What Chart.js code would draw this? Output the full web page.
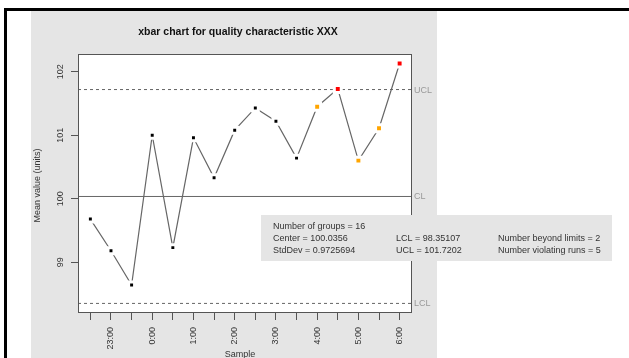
<!DOCTYPE html>
<html>
<head>
<meta charset="utf-8">
<script src="https://cdn.jsdelivr.net/npm/chart.js@4.4.1/dist/chart.umd.min.js"></script>
<style>
html, body { margin: 0; padding: 0; background: #fff; }
canvas { display: block; }
</style>
</head>
<body>
<canvas id="xbar-chart" width="629" height="358"></canvas>
<script>
// datos del grafico
const sampleIdx = [1, 2, 3, 4, 5, 6, 7, 8, 9, 10, 11, 12, 13, 14, 15, 16];
const sampleLabels = ['', '23:00', '', '0:00', '', '1:00', '', '2:00', '', '3:00', '', '4:00', '', '5:00', '', '6:00'];
const groupMeans = [99.68, 99.18, 98.64, 101.00, 99.23, 100.96, 100.33, 101.08, 101.43, 101.22, 100.64, 101.45, 101.73, 100.60, 101.11, 102.13];
const centerValue = 100.0356;
const lclValue = 98.35107;
const uclValue = 101.7202;
const beyondLimits = [13, 16];       // rojo
const violatingRuns = [12, 14, 15];  // naranja
const yTicks = [99, 100, 101, 102];
const statsText = [
    ['Number of groups = 16', '', ''],
    ['Center = 100.0356', 'LCL = 98.35107', 'Number beyond limits = 2'],
    ['StdDev = 0.9725694', 'UCL = 101.7202', 'Number violating runs = 5']
];

const X_MIN = 0.4, X_MAX = 16.6;
const FONT = '"Liberation Sans", Arial, sans-serif';

const pointColors = sampleIdx.map(i =>
    beyondLimits.includes(i) ? '#ff0000' : violatingRuns.includes(i) ? '#ffa500' : '#000000');
const pointSizes = sampleIdx.map(i =>
    (beyondLimits.includes(i) || violatingRuns.includes(i)) ? 4.9 : 4.2);

function limitLine(value) {
    return [{ x: X_MIN, y: value }, { x: X_MAX, y: value }];
}

const qccPlugin = {
    id: 'qcc',
    beforeDraw(chart) {
        const { ctx, chartArea: a } = chart;
        ctx.save();
        ctx.fillStyle = '#fff';
        ctx.fillRect(0, 0, 629, 358);
        ctx.fillStyle = '#e5e5e5';
        ctx.fillRect(31, 11, 406, 347);
        ctx.fillStyle = '#fff';
        ctx.fillRect(a.left, a.top, a.right - a.left, a.bottom - a.top);
        ctx.fillStyle = '#000';
        ctx.fillRect(4, 8, 625, 3);
        ctx.fillRect(4, 8, 3, 350);
        ctx.restore();
    },
    afterDatasetsDraw(chart) {
        const { ctx, chartArea: a, scales } = chart;
        ctx.save();
        // caja del grafico
        ctx.strokeStyle = '#555';
        ctx.lineWidth = 1;
        ctx.strokeRect(a.left + 0.5, a.top + 0.5, a.right - a.left - 1, a.bottom - a.top - 1);

        // etiquetas del eje y (rotadas como en R)
        ctx.fillStyle = '#333';
        ctx.font = '9px ' + FONT;
        ctx.textAlign = 'center';
        ctx.textBaseline = 'middle';
        yTicks.forEach(v => {
            const y = scales.y.getPixelForValue(v);
            ctx.save();
            ctx.translate(61, y);
            ctx.rotate(-Math.PI / 2);
            ctx.fillText(String(v), 0, 0);
            ctx.restore();
        });

        // titulo eje y
        ctx.save();
        ctx.translate(38, (a.top + a.bottom) / 2 + 2);
        ctx.rotate(-Math.PI / 2);
        ctx.fillText('Mean value (units)', 0, 0);
        ctx.restore();

        // titulo eje x
        ctx.fillText('Sample', 240, 355);

        // titulo
        ctx.fillStyle = '#111';
        ctx.font = 'bold 10.5px ' + FONT;
        ctx.fillText('xbar chart for quality characteristic XXX', 238, 32);

        // etiquetas de limites
        ctx.fillStyle = '#999';
        ctx.font = '9px ' + FONT;
        ctx.textAlign = 'left';
        [['UCL', uclValue], ['CL', centerValue], ['LCL', lclValue]].forEach(([t, v]) => {
            ctx.fillText(t, a.right + 2, scales.y.getPixelForValue(v) + 0.5);
        });
        ctx.restore();
    },
    afterDraw(chart) {
        const { ctx } = chart;
        ctx.save();
        ctx.fillStyle = '#e5e5e5';
        ctx.fillRect(261, 215, 351, 46);
        ctx.fillStyle = '#333';
        ctx.font = '9px ' + FONT;
        ctx.textAlign = 'left';
        ctx.textBaseline = 'middle';
        const cols = [273, 396, 498];
        const rows = [227, 238.5, 250.5];
        statsText.forEach((line, r) => {
            line.forEach((txt, c) => {
                if (txt) ctx.fillText(txt, cols[c], rows[r]);
            });
        });
        ctx.restore();
    }
};

const ctx = document.getElementById('xbar-chart').getContext('2d');
new Chart(ctx, {
    type: 'line',
    data: {
        datasets: [
            {
                label: 'Group means',
                data: sampleIdx.map((x, i) => ({ x: x, y: groupMeans[i] })),
                borderColor: '#666',
                borderWidth: 1.2,
                pointStyle: 'rect',
                pointRadius: pointSizes,
                pointBackgroundColor: pointColors,
                pointBorderColor: '#fff',
                pointBorderWidth: 3,
                tension: 0
            },
            {
                label: 'UCL',
                data: limitLine(uclValue),
                borderColor: '#666',
                borderWidth: 1,
                borderDash: [3, 3],
                pointRadius: 0
            },
            {
                label: 'CL',
                data: limitLine(centerValue),
                borderColor: '#666',
                borderWidth: 1,
                pointRadius: 0
            },
            {
                label: 'LCL',
                data: limitLine(lclValue),
                borderColor: '#666',
                borderWidth: 1,
                borderDash: [3, 3],
                pointRadius: 0
            }
        ]
    },
    options: {
        responsive: false,
        animation: false,
        devicePixelRatio: 1,
        layout: { padding: { left: 71, top: 54, right: 217, bottom: 0 } },
        plugins: {
            legend: { display: false },
            title: { display: false },
            tooltip: { enabled: false }
        },
        scales: {
            x: {
                type: 'linear',
                min: X_MIN,
                max: X_MAX,
                afterBuildTicks: scale => { scale.ticks = sampleIdx.map(v => ({ value: v })); },
                afterFit: scale => { scale.height = 45; },
                border: { display: false },
                grid: { drawOnChartArea: false, drawTicks: true, tickLength: 7, color: '#555' },
                ticks: {
                    autoSkip: false,
                    minRotation: 90,
                    maxRotation: 90,
                    padding: 7,
                    color: '#333',
                    font: { family: FONT, size: 9 },
                    callback: (v, idx) => sampleLabels[idx]
                }
            },
            y: {
                min: 98.2,
                max: 102.28,
                afterBuildTicks: scale => { scale.ticks = yTicks.map(v => ({ value: v })); },
                afterFit: scale => { scale.width = 7; },
                border: { display: false },
                grid: { drawOnChartArea: false, drawTicks: true, tickLength: 7, color: '#555' },
                ticks: { display: false }
            }
        }
    },
    plugins: [qccPlugin]
});
</script>
</body>
</html>
